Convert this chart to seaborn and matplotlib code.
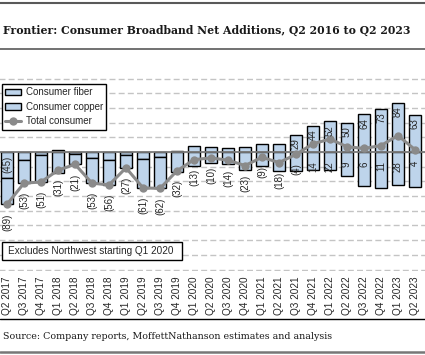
import numpy as np
import pandas as pd
import matplotlib.pyplot as plt
import seaborn as sns
from matplotlib.lines import Line2D
from matplotlib.patches import Patch, Rectangle

# net additions (thousands)
quarters = [
    "Q2 2017", "Q3 2017", "Q4 2017",
    "Q1 2018", "Q2 2018", "Q3 2018", "Q4 2018",
    "Q1 2019", "Q2 2019", "Q3 2019", "Q4 2019",
    "Q1 2020", "Q2 2020", "Q3 2020", "Q4 2020",
    "Q1 2021", "Q2 2021", "Q3 2021", "Q4 2021",
    "Q1 2022", "Q2 2022", "Q3 2022", "Q4 2022",
    "Q1 2023", "Q2 2023",
]
fiber = [-45, -13, -5, 4, -3, -10, -13, -5, -12, -8, 2, 10, 8, 6, 8, 14, 14, 29, 44, 52, 50, 64, 73, 84, 63]
copper = [-44, -40, -46, -35, -18, -43, -43, -22, -49, -54, -34, -23, -18, -20, -31, -23, -32, -33, -30, -30, -41, -58, -62, -56, -59]
total = [-89, -53, -51, -31, -21, -53, -56, -27, -61, -62, -32, -13, -10, -14, -23, -9, -18, -4, 14, 22, 9, 6, 11, 28, 4]

W, H = 425, 355
BAR_BLUE = "#bed4eb"
LINE_GRAY = "#8a8a8a"
TEXT = "#262626"


def fx(px):
    return px / W


def fy(py):
    return 1 - py / H


sns.set_theme(style="white")
plt.rcParams["font.family"] = ["Liberation Sans", "DejaVu Sans"]

fig = plt.figure(figsize=(W / 100, H / 100), dpi=100)

# the plot area runs past both picture edges, like the cropped source chart
ppu = 0.5877
zero_px = 152
ymin, ymax = -203, 128
first_px, step_px = 7, 17
ax_l, ax_r = -60, 485
ax_t = zero_px - ymax * ppu
ax_b = zero_px - ymin * ppu
ax = fig.add_axes([fx(ax_l), fy(ax_b), (ax_r - ax_l) / W, (ax_b - ax_t) / H])

df = pd.DataFrame({"quarter": quarters, "fiber": fiber, "copper": copper, "total": total})
copper_bottom = np.minimum(df["fiber"].to_numpy(), 0)

bar_kw = dict(color=BAR_BLUE, saturation=1, edgecolor="black", linewidth=1.0,
              width=0.68, errorbar=None, ax=ax, zorder=2)
sns.barplot(data=df, x="quarter", y="fiber", **bar_kw)
sns.barplot(data=df, x="quarter", y="copper", bottom=copper_bottom, **bar_kw)

ax.axhline(0, color="#7a7a7a", lw=1.3, zorder=3)
sns.lineplot(x=np.arange(len(quarters)), y=df["total"], color=LINE_GRAY, lw=2.2,
             marker="o", markersize=6, markeredgewidth=0, ax=ax, zorder=4)

for i, v in enumerate(total):
    txt = f"({abs(v)})" if v < 0 else f"{v}"
    ax.annotate(txt, (i, min(v, 0)), xytext=(0, -6.5), textcoords="offset points",
                rotation=90, ha="center", va="top", fontsize=7, color=TEXT, zorder=5)

for i, v in enumerate(fiber):
    if abs(v) < 20:
        continue
    txt = f"({abs(v)})" if v < 0 else f"{v}"
    ax.annotate(txt, (i, max(v, 0)), xytext=(0, -2.5), textcoords="offset points",
                rotation=90, ha="center", va="top", fontsize=7, color=TEXT, zorder=5)

ax.set_xlim((ax_l - first_px) / step_px, (ax_r - first_px) / step_px)
ax.set_ylim(ymin, ymax)
ax.set_xticks(range(len(quarters)))
ax.set_xticklabels(quarters, rotation=90, fontsize=7.2, color=TEXT)
ax.set_yticks(np.arange(-200, 126, 25))
ax.set_yticklabels([])
ax.tick_params(axis="both", length=0)
ax.tick_params(axis="x", pad=4)
ax.set_xlabel("")
ax.set_ylabel("")
for s in ax.spines.values():
    s.set_visible(False)
ax.yaxis.grid(True, color="#c4c4c4", lw=1.0, ls=(0, (4.3, 2.3)), zorder=0)
ax.set_axisbelow(True)

handles = [
    Patch(facecolor=BAR_BLUE, edgecolor="black", linewidth=1.0),
    Patch(facecolor=BAR_BLUE, edgecolor="black", linewidth=1.0),
    Line2D([], [], color=LINE_GRAY, lw=2.2, marker="o", markersize=6, markeredgewidth=0),
]
leg = fig.legend(handles, ["Consumer fiber", "Consumer copper", "Total consumer"],
                 loc="upper left", bbox_to_anchor=(fx(2), fy(84)), frameon=True,
                 fancybox=False, edgecolor="black", framealpha=1, fontsize=7,
                 borderpad=0.35, labelspacing=0.45, handlelength=1.6,
                 handletextpad=0.5, borderaxespad=0)
leg.get_frame().set_linewidth(1.0)
for t in leg.get_texts():
    t.set_color(TEXT)

# note box
fig.add_artist(Rectangle((fx(2), fy(260)), fx(180), 18 / H, transform=fig.transFigure,
                         facecolor="white", edgecolor="black", lw=1.0, zorder=6))
fig.text(fx(8), fy(251), "Excludes Northwest starting Q1 2020", ha="left", va="center",
         fontsize=7.2, color=TEXT, zorder=7)

# title block and rules
fig.add_artist(Line2D([0, 1], [fy(3), fy(3)], color="#595959", lw=1.5, transform=fig.transFigure))
fig.add_artist(Line2D([0, 1], [fy(49), fy(49)], color="#595959", lw=1.2, transform=fig.transFigure))
fig.text(fx(3), fy(34), "Frontier: Consumer Broadband Net Additions, Q2 2016 to Q2 2023",
         family="DejaVu Serif", weight="bold", fontsize=7.8, color="#1a1a1a", va="baseline")

fig.add_artist(Line2D([0, 1], [fy(319), fy(319)], color="black", lw=1.0, transform=fig.transFigure))
fig.text(fx(3), fy(339), "Source: Company reports, MoffettNathanson estimates and analysis",
         family="DejaVu Serif", fontsize=6.8, color="#1a1a1a", va="baseline")
fig.add_artist(Line2D([0, 1], [fy(352), fy(352)], color="#777777", lw=1.8, transform=fig.transFigure))

fig.savefig("out.png", dpi=100)
